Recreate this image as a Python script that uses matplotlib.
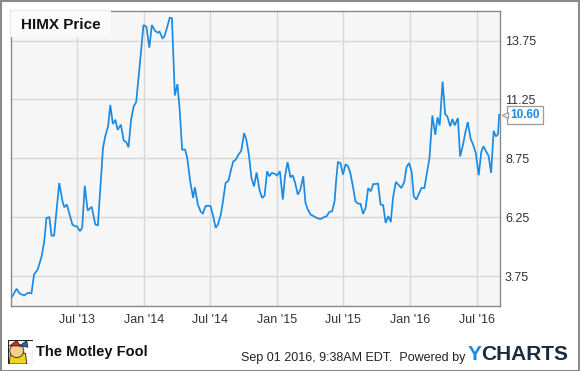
import matplotlib
matplotlib.use("Agg")
import matplotlib.pyplot as plt
import matplotlib.transforms as mtransforms
import pandas as pd
from matplotlib.patches import Rectangle, Polygon, Circle

# HIMX weekly-ish closes
dates = [
    "2013-01-03", "2013-01-17", "2013-01-26", "2013-02-07", "2013-02-18", "2013-02-27",
    "2013-03-06", "2013-03-16", "2013-03-27", "2013-04-03", "2013-04-09", "2013-04-17",
    "2013-04-23", "2013-04-30", "2013-05-14", "2013-05-23", "2013-05-28", "2013-06-04",
    "2013-06-19", "2013-06-26", "2013-07-01", "2013-07-10", "2013-07-16", "2013-07-23",
    "2013-07-31", "2013-08-11", "2013-08-21", "2013-08-28", "2013-09-11", "2013-09-17",
    "2013-09-25", "2013-10-01", "2013-10-08", "2013-10-15", "2013-10-21", "2013-10-30",
    "2013-11-07", "2013-11-14", "2013-11-20", "2013-11-27", "2013-12-04", "2013-12-11",
    "2013-12-20", "2013-12-31", "2014-01-08", "2014-01-16", "2014-01-23", "2014-02-01",
    "2014-02-08", "2014-02-13", "2014-02-21", "2014-02-26", "2014-03-05", "2014-03-13",
    "2014-03-19", "2014-03-27", "2014-04-03", "2014-04-09", "2014-04-16", "2014-04-24",
    "2014-04-30", "2014-05-08", "2014-05-16", "2014-05-21", "2014-05-29", "2014-06-06",
    "2014-06-12", "2014-06-19", "2014-06-26", "2014-07-03", "2014-07-10", "2014-07-17",
    "2014-07-23", "2014-07-31", "2014-08-06", "2014-08-13", "2014-08-21", "2014-08-27",
    "2014-09-03", "2014-09-10", "2014-09-17", "2014-09-25", "2014-10-03", "2014-10-09",
    "2014-10-16", "2014-10-23", "2014-10-30", "2014-11-06", "2014-11-14", "2014-11-21",
    "2014-11-28", "2014-12-05", "2014-12-11", "2014-12-18", "2014-12-27", "2015-01-01",
    "2015-01-09", "2015-01-17", "2015-01-23", "2015-01-30", "2015-02-07", "2015-02-13",
    "2015-02-20", "2015-02-27", "2015-03-06", "2015-03-14", "2015-03-20", "2015-03-26",
    "2015-04-03", "2015-04-09", "2015-04-16", "2015-04-25", "2015-05-02", "2015-05-09",
    "2015-05-17", "2015-05-25", "2015-06-01", "2015-06-08", "2015-06-12", "2015-06-17",
    "2015-06-24", "2015-07-01", "2015-07-08", "2015-07-15", "2015-07-21", "2015-07-29",
    "2015-08-04", "2015-08-11", "2015-08-18", "2015-08-25", "2015-09-01", "2015-09-08",
    "2015-09-15", "2015-09-22", "2015-09-28", "2015-10-05", "2015-10-12", "2015-10-19",
    "2015-10-26", "2015-11-02", "2015-11-09", "2015-11-15", "2015-11-23", "2015-11-30",
    "2015-12-08", "2015-12-16", "2015-12-22", "2015-12-29", "2016-01-05", "2016-01-11",
    "2016-01-18", "2016-01-26", "2016-02-01", "2016-02-09", "2016-02-16", "2016-02-23",
    "2016-03-02", "2016-03-10", "2016-03-16", "2016-03-22", "2016-03-30", "2016-04-06",
    "2016-04-12", "2016-04-20", "2016-04-26", "2016-05-02", "2016-05-11", "2016-05-17",
    "2016-05-25", "2016-05-31", "2016-06-07", "2016-06-15", "2016-06-21", "2016-06-29",
    "2016-07-07", "2016-07-14", "2016-07-20", "2016-07-28", "2016-08-03", "2016-08-10",
    "2016-08-17", "2016-08-23", "2016-08-29", "2016-09-01",
]
prices = [
    2.83, 3.21, 3.00, 2.93, 3.04, 3.02,
    3.82, 4.03, 4.60, 5.23, 6.22, 6.25,
    5.47, 5.47, 7.70, 6.93, 6.67, 6.79,
    5.94, 5.87, 5.87, 5.66, 5.80, 7.59,
    6.53, 6.69, 5.94, 5.91, 9.19, 9.68,
    10.11, 11.02, 10.21, 10.39, 9.96, 10.18,
    9.50, 9.44, 9.22, 10.39, 10.95, 11.14,
    12.58, 14.41, 14.34, 13.45, 14.41, 14.16,
    14.09, 14.13, 13.85, 13.92, 14.27, 14.72,
    14.70, 11.42, 11.90, 10.88, 9.12, 9.12,
    8.76, 7.78, 7.07, 7.52, 6.79, 6.48,
    6.41, 6.72, 6.74, 6.72, 6.29, 5.80,
    5.94, 6.36, 6.93, 7.70, 7.80, 8.20,
    8.62, 8.69, 8.90, 9.07, 9.82, 9.54,
    8.90, 7.92, 7.56, 8.15, 7.42, 7.07,
    7.17, 8.20, 7.99, 8.13, 8.09, 8.02,
    8.20, 7.00, 7.99, 8.59, 7.94, 8.03,
    7.70, 7.21, 7.42, 7.99, 6.86, 6.60,
    6.36, 6.32, 6.25, 6.19, 6.18, 6.25,
    6.29, 6.48, 6.50, 6.93, 7.78, 8.59,
    8.55, 8.06, 8.50, 8.41, 8.13, 7.49,
    6.93, 6.83, 6.82, 6.39, 6.65, 7.49,
    7.35, 7.66, 7.66, 7.68, 6.79, 6.76,
    6.01, 6.29, 6.05, 7.07, 7.75, 7.63,
    7.49, 7.75, 8.37, 8.55, 8.20, 7.14,
    7.00, 7.28, 7.49, 7.49, 8.13, 8.76,
    10.57, 9.75, 10.49, 10.15, 12.01, 10.63,
    10.53, 10.11, 10.42, 10.15, 10.46, 8.83,
    9.33, 9.82, 10.29, 9.57, 9.36, 8.98,
    8.03, 9.02, 9.26, 9.02, 8.86, 8.13,
    9.92, 9.68, 9.78, 10.60,
]

y_ticks = [3.75, 6.25, 8.75, 11.25, 13.75]
x_tick_dates = ["2013-07-01", "2014-01-01", "2014-07-01", "2015-01-01",
                "2015-07-01", "2016-01-01", "2016-07-01"]
x_tick_labels = ["Jul '13", "Jan '14", "Jul '14", "Jan '15", "Jul '15", "Jan '16", "Jul '16"]
title = "HIMX Price"
last_price = prices[-1]

LINE = "#1a8be4"
W, H = 580, 371

plt.rcParams["font.family"] = ["Liberation Sans", "DejaVu Sans"]

fig = plt.figure(figsize=(W / 100, H / 100), dpi=100)
fig.patch.set_facecolor("white")

left, right, top, bottom = 10.7, 499.5, 10.7, 306
ax = fig.add_axes([left / W, 1 - bottom / H, (right - left) / W, (bottom - top) / H])
ax.set_facecolor("#f6f6f6")

x = pd.to_datetime(dates)
ax.plot(x, prices, color=LINE, lw=1.25, solid_joinstyle="miter")

ax.set_xlim(pd.Timestamp("2013-01-01"), pd.Timestamp("2016-09-02"))
ax.set_ylim(2.48, 15.02)

ax.set_yticks(y_ticks)
ax.set_yticklabels([f"{v:.2f}" for v in y_ticks])
ax.set_xticks(pd.to_datetime(x_tick_dates))
ax.set_xticklabels(x_tick_labels)
ax.yaxis.tick_right()
ax.tick_params(axis="both", length=0, labelsize=9, labelcolor="#333333")
ax.tick_params(axis="y", pad=4)
ax.tick_params(axis="x", pad=6)
ax.grid(True, color="#d6d6d6", lw=0.9)
ax.set_axisbelow(True)
for s in ax.spines.values():
    s.set_color("#8a8a8a")
    s.set_linewidth(1.0)

# title box in the top-left corner
ax.add_patch(Rectangle((0, 1 - 26 / (bottom - top)), 100 / (right - left), 26 / (bottom - top),
                       transform=ax.transAxes, facecolor="#fbfbfb", edgecolor="none", zorder=3))
ax.text(10.5 / (right - left), 1 - 14 / (bottom - top), title, transform=ax.transAxes,
        fontsize=11, fontweight="bold", color="#111111", va="center", ha="left", zorder=4)

# last price tag with a small pointer
ax.annotate(f"{last_price:.2f}", xy=(x[-1], last_price), xytext=(8, 0),
            textcoords="offset points", fontsize=8.5, fontweight="bold", color=LINE,
            va="center", ha="left", annotation_clip=False, zorder=5,
            bbox=dict(boxstyle="square,pad=0.25", fc="white", ec="#9a9a9a", lw=0.9))
ptr = mtransforms.offset_copy(ax.transData, fig=fig, x=4.2, y=0, units="points")
ax.plot([x[-1]], [last_price], marker="<", ms=5, mfc="white", mec="#9a9a9a", mew=0.9,
        transform=ptr, clip_on=False, zorder=6)

# footer
fig.text(465 / W, 1 - 358 / H, "Sep 01 2016, 9:38AM EDT.  Powered by", fontsize=9,
         color="#222222", ha="right", va="center")
fig.text(468 / W, 1 - 355 / H, "Y", fontsize=15, fontweight="bold", color="#1a8be4",
         ha="left", va="center")
fig.text(481 / W, 1 - 355 / H, "CHARTS", fontsize=15, fontweight="bold", color="#1c2b3c",
         ha="left", va="center")

# rough Motley Fool jester logo
logo = fig.add_axes([8 / W, 1 - 364 / H, 25 / W, 24 / H])
logo.set_xlim(0, 1)
logo.set_ylim(0, 1)
logo.axis("off")
logo.add_patch(Rectangle((0, 0), 1, 1, fc="white", ec="#222222", lw=0.8))
logo.add_patch(Polygon([[0.05, 0.0], [0.75, 0.0], [0.7, 0.45], [0.1, 0.5]], fc="#f2d21b", ec="#222222", lw=0.6))
logo.add_patch(Circle((0.35, 0.55), 0.28, fc="#f5cf8a", ec="#222222", lw=0.6))
logo.add_patch(Polygon([[0.05, 0.75], [0.35, 0.98], [0.5, 0.75]], fc="#d7262b", ec="#222222", lw=0.5))
logo.add_patch(Polygon([[0.45, 0.75], [0.75, 0.98], [0.8, 0.7]], fc="#2a5db0", ec="#222222", lw=0.5))
fig.text(36 / W, 1 - 352 / H, "The Motley Fool", fontsize=10.5, fontweight="bold",
         color="#111111", ha="left", va="center", family=["Liberation Sans Narrow", "Liberation Sans"])

# outer frame
fig.add_artist(Rectangle((0.5 / W, 0.5 / H), 1 - 1.5 / W, 1 - 1.5 / H, transform=fig.transFigure,
                         fill=False, ec="#8a8a8a", lw=1.5))

fig.savefig("out.png", dpi=100, facecolor="white")
